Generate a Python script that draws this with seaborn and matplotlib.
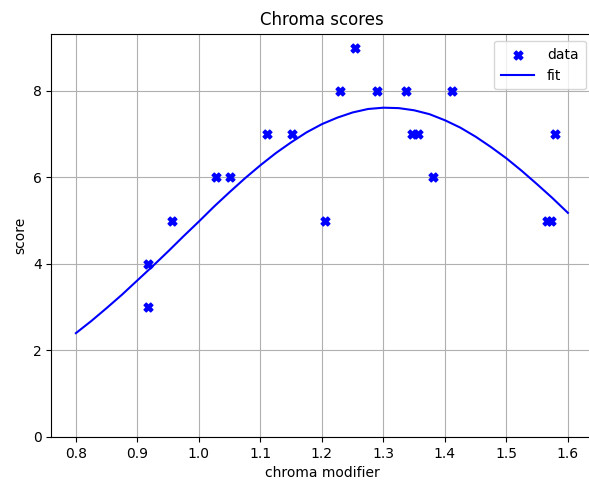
import matplotlib
matplotlib.use("Agg")
import matplotlib.pyplot as plt
import seaborn as sns
import pandas as pd

# observed data
chroma = [0.918, 0.918, 0.957, 1.027, 1.051, 1.111, 1.151, 1.205, 1.229, 1.254,
          1.289, 1.337, 1.346, 1.357, 1.380, 1.411, 1.566, 1.572, 1.579]
score = [4, 3, 5, 6, 6, 7, 7, 5, 8, 9, 8, 8, 7, 7, 6, 8, 5, 5, 7]

# fitted curve
fit_x = [0.80, 0.825, 0.85, 0.875, 0.90, 0.925, 0.95, 0.975, 1.00, 1.025, 1.05, 1.075,
         1.10, 1.125, 1.15, 1.175, 1.20, 1.225, 1.25, 1.275, 1.30, 1.325, 1.35, 1.375,
         1.40, 1.425, 1.45, 1.475, 1.50, 1.525, 1.55, 1.575, 1.60]
fit_y = [2.40, 2.68, 2.98, 3.29, 3.62, 3.95, 4.29, 4.64, 4.98, 5.33, 5.66, 5.98,
         6.28, 6.56, 6.81, 7.04, 7.23, 7.38, 7.50, 7.58, 7.61, 7.60, 7.55, 7.46,
         7.32, 7.15, 6.94, 6.70, 6.44, 6.15, 5.84, 5.52, 5.18]

df_pts = pd.DataFrame({"chroma": chroma, "score": score})
df_fit = pd.DataFrame({"chroma": fit_x, "score": fit_y})

W, H = 589, 483
fig = plt.figure(figsize=(W / 100, H / 100), dpi=100)
left, right, top, bottom = 51.3, 592.5, 33.7, 437.0
ax = fig.add_axes([left / W, (H - bottom) / H, (right - left) / W, (bottom - top) / H])

sns.scatterplot(data=df_pts, x="chroma", y="score", marker="X", color="blue",
                s=40, edgecolor="blue", linewidth=1, label="data", ax=ax, zorder=3)
sns.lineplot(data=df_fit, x="chroma", y="score", color="blue", linewidth=1.5,
             label="fit", ax=ax, zorder=2)

ax.set_xlim(0.76, 1.64)
ax.set_ylim(0, 9.32)
ax.set_xticks([0.8, 0.9, 1.0, 1.1, 1.2, 1.3, 1.4, 1.5, 1.6])
ax.set_yticks([0, 2, 4, 6, 8])
ax.grid(True, color="#b0b0b0", linewidth=0.8)
ax.set_axisbelow(True)
ax.set_xlabel("chroma modifier")
ax.set_ylabel("score")
ax.set_title("Chroma scores", fontsize=12)
ax.legend(loc="upper right", handlelength=2.4, handletextpad=0.9, borderpad=0.5)

fig.savefig("out.png", dpi=100)
